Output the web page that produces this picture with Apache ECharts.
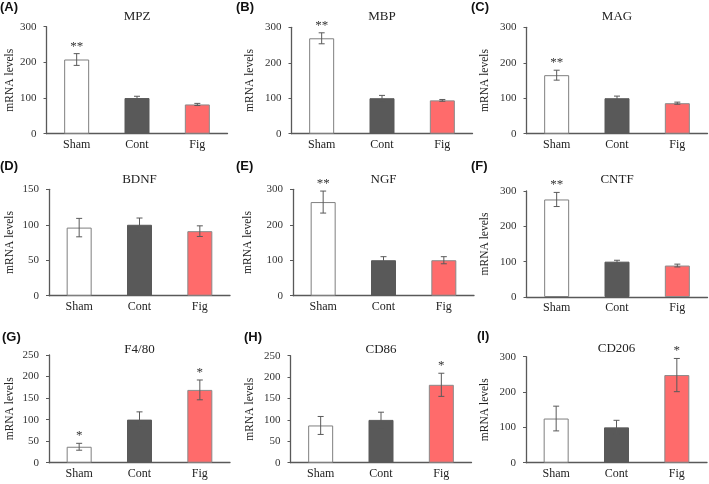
<!DOCTYPE html>
<html>
<head>
<meta charset="utf-8">
<script src="https://cdn.jsdelivr.net/npm/echarts@6/dist/echarts.min.js"></script>
<style>html,body{margin:0;padding:0;background:#fff}#c{width:709px;height:484px}</style>
</head>
<body>
<div id="c"></div>
<script>
const categories = ['Sham', 'Cont', 'Fig'];
const genes = ['MPZ', 'MBP', 'MAG', 'BDNF', 'NGF', 'CNTF', 'F4/80', 'CD86', 'CD206'];
const panelLabels = ['(A)', '(B)', '(C)', '(D)', '(E)', '(F)', '(G)', '(H)', '(I)'];
const yMaxes = [300, 300, 300, 150, 300, 300, 250, 250, 300];
const yIntervals = [100, 100, 100, 50, 100, 100, 50, 50, 100];

const meanMPZ = [208, 100, 82];   const errMPZ = [16.5, 5, 3];    const sigMPZ = ['**', '', ''];
const meanMBP = [269, 100, 94];   const errMBP = [15.5, 8, 2.5];  const sigMBP = ['**', '', ''];
const meanMAG = [165, 100, 86];   const errMAG = [14, 6, 3];      const sigMAG = ['**', '', ''];
const meanBDNF = [96, 100, 91];   const errBDNF = [13, 9.5, 7.5]; const sigBDNF = ['', '', ''];
const meanNGF = [264, 100, 100];  const errNGF = [31, 10, 10];    const sigNGF = ['**', '', ''];
const meanCNTF = [276, 100, 89];  const errCNTF = [20, 4, 4];     const sigCNTF = ['**', '', ''];
const meanF480 = [37, 100, 169];  const errF480 = [8, 18, 23];    const sigF480 = ['*', '', '*'];
const meanCD86 = [87, 100, 182];  const errCD86 = [21, 18, 27];   const sigCD86 = ['', '', '*'];
const meanCD206 = [125, 100, 248];const errCD206 = [35, 20, 47];  const sigCD206 = ['', '', '*'];

const means = [meanMPZ, meanMBP, meanMAG, meanBDNF, meanNGF, meanCNTF, meanF480, meanCD86, meanCD206];
const errs = [errMPZ, errMBP, errMAG, errBDNF, errNGF, errCNTF, errF480, errCD86, errCD206];
const sigs = [sigMPZ, sigMBP, sigMAG, sigBDNF, sigNGF, sigCNTF, sigF480, sigCD86, sigCD206];

// layout (pixels)
const gridLeft = [46.5, 291.5, 526.5, 49, 293, 526.5, 49, 290.5, 526];
const gridTop = [26.7, 27.3, 27.3, 189.3, 189.3, 191, 355, 355.7, 356.7];
const gridZero = [133.7, 133.7, 133.7, 295.7, 295.7, 297, 462.7, 462.7, 462.7];
const nameGaps = [26, 36, 36, 33.5, 39.5, 36, 33, 35, 35.5];
const labelPos = [[0, 1], [236, 1], [471, 1], [0, 160], [236, 160], [471, 160], [2, 331], [244, 331], [477, 330]];
const titleTop = [10, 10, 10, 173, 173, 173, 343, 343, 342];

const barColors = ['#ffffff', '#595959', '#ff6b6b'];
const barBorders = ['#7f7f7f', '#595959', '#8a8a8a'];
const serif = '"Liberation Serif", "DejaVu Serif", serif';

const grids = [], xAxes = [], yAxes = [], series = [], titles = [];
for (let p = 0; p < 9; p++) {
  grids.push({left: gridLeft[p], top: gridTop[p], width: 181, height: gridZero[p] - gridTop[p]});
  xAxes.push({
    type: 'category', gridIndex: p, data: categories,
    axisLine: {lineStyle: {color: '#595959', width: 1.3}},
    axisTick: {show: false},
    axisLabel: {color: '#222', fontFamily: serif, fontSize: 12, margin: 5}
  });
  yAxes.push({
    type: 'value', gridIndex: p, min: 0, max: yMaxes[p], interval: yIntervals[p],
    name: 'mRNA levels', nameLocation: 'middle', nameGap: nameGaps[p], nameRotate: 90,
    nameTextStyle: {color: '#222', fontFamily: serif, fontSize: 11.5},
    axisLine: {show: true, lineStyle: {color: '#595959', width: 1.3}},
    axisTick: {show: true, length: 3, lineStyle: {color: '#595959'}},
    splitLine: {show: false},
    axisLabel: {color: '#333', fontFamily: serif, fontSize: 11, margin: 10}
  });
  titles.push({
    text: genes[p], left: gridLeft[p] + 90.5, top: titleTop[p], textAlign: 'center', padding: 0,
    textStyle: {fontFamily: serif, fontSize: 13, fontWeight: 'normal', color: '#222'}
  });
  titles.push({
    text: panelLabels[p], left: labelPos[p][0], top: labelPos[p][1], padding: 0,
    textStyle: {fontFamily: '"Liberation Sans", Arial, sans-serif', fontSize: 13, fontWeight: 'bold', color: '#111'}
  });
  series.push({
    type: 'bar', xAxisIndex: p, yAxisIndex: p, barWidth: 25,
    data: means[p].map((v, i) => ({
      value: v,
      itemStyle: {color: barColors[i], borderColor: barBorders[i], borderWidth: 1}
    })),
    silent: true
  });
  const sig = sigs[p];
  series.push({
    type: 'custom', xAxisIndex: p, yAxisIndex: p, silent: true, z: 5,
    data: means[p].map((v, i) => [i, v, errs[p][i]]),
    encode: {x: 0, y: 1},
    renderItem: function (params, api) {
      const i = api.value(0), m = api.value(1), e = api.value(2);
      const top = api.coord([i, m + e]);
      const bot = api.coord([i, m - e]);
      const hw = 3;
      const style = {stroke: '#5a5a5a', lineWidth: 1};
      const children = [
        {type: 'line', shape: {x1: top[0], y1: top[1], x2: bot[0], y2: bot[1]}, style: style},
        {type: 'line', shape: {x1: top[0] - hw, y1: top[1], x2: top[0] + hw, y2: top[1]}, style: style},
        {type: 'line', shape: {x1: bot[0] - hw, y1: bot[1], x2: bot[0] + hw, y2: bot[1]}, style: style}
      ];
      if (sig[i]) {
        children.push({type: 'text', style: {
          text: sig[i], x: top[0], y: top[1] - 1, align: 'center', verticalAlign: 'bottom',
          fontFamily: serif, fontSize: 13, fill: '#333'
        }});
      }
      return {type: 'group', children: children};
    }
  });
}

const chart = echarts.init(document.getElementById('c'), null, {renderer: 'canvas'});
chart.setOption({
  animation: false,
  backgroundColor: '#ffffff',
  title: titles,
  grid: grids,
  xAxis: xAxes,
  yAxis: yAxes,
  series: series
});
</script>
</body>
</html>
